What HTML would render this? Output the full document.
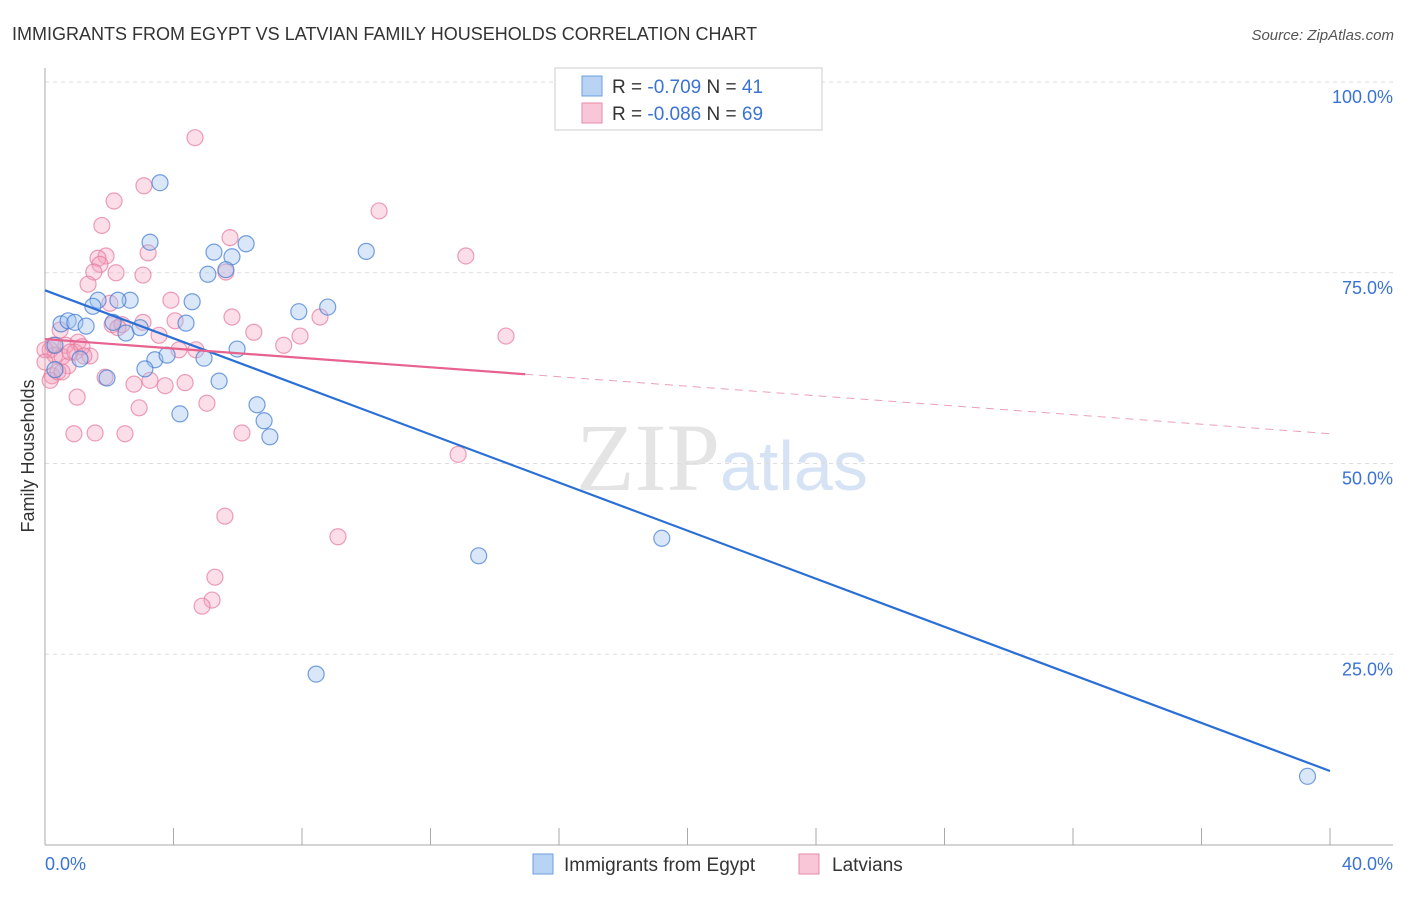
<!DOCTYPE html>
<html><head><meta charset="utf-8"><style>
body{margin:0;background:#fff;font-family:"Liberation Sans",sans-serif}
</style></head><body>
<svg id="c" width="1406" height="892" xmlns="http://www.w3.org/2000/svg" font-family="Liberation Sans, sans-serif">
<text x="12" y="40" font-size="18" fill="#333">IMMIGRANTS FROM EGYPT VS LATVIAN FAMILY HOUSEHOLDS CORRELATION CHART</text>
<text x="1394" y="40" font-size="15" fill="#555" font-style="italic" text-anchor="end">Source: ZipAtlas.com</text>
<text x="720" y="490" font-size="96" fill="#e4e4e4" text-anchor="end" font-family="Liberation Serif, serif">ZIP</text>
<text x="720" y="490" font-size="70" fill="#d6e3f5">atlas</text>
<text x="34" y="456" font-size="18" fill="#333" text-anchor="middle" transform="rotate(-90 34 456)">Family Households</text>
<g id="grid"></g><g id="axes"></g><g id="pts"></g><g id="trend"></g>
<g>
<rect x="555" y="68" width="267" height="62" fill="#fff" stroke="#ccc"/>
<rect x="582" y="76" width="20" height="20" fill="#b9d3f5" stroke="#6d9fe0"/>
<rect x="582" y="103" width="20" height="20" fill="#f8c6d6" stroke="#e88aa8"/>
<text x="612" y="93" font-size="19" fill="#333">R = <tspan fill="#3a73d4">-0.709</tspan>   N = <tspan fill="#3a73d4">41</tspan></text>
<text x="612" y="120" font-size="19" fill="#333">R = <tspan fill="#3a73d4">-0.086</tspan>   N = <tspan fill="#3a73d4">69</tspan></text>
</g>
<g>
<rect x="533" y="854" width="20" height="20" fill="#b9d3f5" stroke="#6d9fe0"/>
<text x="564" y="871" font-size="19" fill="#333">Immigrants from Egypt</text>
<rect x="799" y="854" width="20" height="20" fill="#f8c6d6" stroke="#e88aa8"/>
<text x="832" y="871" font-size="19" fill="#333">Latvians</text>
</g>
</svg>
<script>
const yTicks=[25,50,75,100];
const yTickLabels=["25.0%","50.0%","75.0%","100.0%"];
const xTicks=[0,4,8,12,16,20,24,28,32,36,40];
const blueX=[3.58,3.27,5.26,6.26,5.82,5.07,5.63,10.0,1.65,2.65,2.27,1.49,4.58,7.9,8.8,0.5,0.72,0.93,1.28,2.12,2.52,2.96,4.39,0.31,1.09,1.93,3.42,3.8,4.95,5.98,3.11,5.42,4.2,6.6,6.82,7.0,13.5,19.2,8.44,39.3,0.31];
const blueY=[86.8,79.0,77.7,78.8,77.1,74.8,75.4,77.8,71.4,71.4,71.4,70.6,71.2,69.9,70.5,68.3,68.7,68.5,68.0,68.5,67.1,67.8,68.4,65.5,63.7,61.2,63.6,64.2,63.8,65.0,62.4,60.8,56.5,57.7,55.6,53.5,37.9,40.2,22.4,9.0,62.3];
const pinkX=[4.67,3.08,2.15,10.4,1.77,5.76,3.21,1.9,13.1,1.65,1.71,1.52,2.21,3.05,5.63,1.34,3.92,2.02,8.56,5.82,3.05,4.05,2.09,2.4,6.5,3.55,7.94,14.35,7.43,0.47,0.65,1.03,0.16,0.31,0.53,0.93,1.4,1.15,0.72,0.22,0.16,0.4,1.21,4.17,4.7,3.27,3.74,4.36,1.87,2.77,1.0,2.93,5.04,0.9,1.56,2.49,6.13,12.86,5.6,9.12,5.29,5.2,4.89,0.0,0.0,2.27,0.53,0.25,0.78];
const pinkY=[92.7,86.4,84.4,83.1,81.2,79.6,77.6,77.2,77.2,76.9,76.1,75.1,75.0,74.7,75.1,73.5,71.4,71.0,69.2,69.2,68.5,68.7,68.2,68.2,67.2,66.8,66.7,66.7,65.5,67.5,65.5,65.9,64.9,64.2,64.0,64.6,64.1,65.3,62.8,61.5,60.9,62.0,64.1,64.9,64.9,60.9,60.2,60.6,61.3,60.4,58.7,57.3,57.9,53.9,54.0,53.9,54.0,51.2,43.1,40.4,35.1,32.1,31.3,64.9,63.3,67.8,62.0,65.5,64.6];
const blueTrend=[[0,72.7],[40,9.7]];
const pinkTrendSolid=[[0,66.3],[14.95,61.7]];
const pinkTrendDash=[[14.95,61.7],[40,53.9]];
const NS="http://www.w3.org/2000/svg";
const sx=v=>45+v*32.125, sy=v=>845-v*7.63;
function mk(t,a,p){const e=document.createElementNS(NS,t);for(const k in a)e.setAttribute(k,a[k]);document.getElementById(p).appendChild(e);return e;}
yTicks.forEach((t,i)=>{const g=mk('line',{x1:45,x2:1393,y1:sy(t),y2:sy(t),stroke:'#ddd','stroke-dasharray':'4,4'},'grid');


const l=mk('text',{x:1393,y:sy(t)+21,'font-size':18,fill:'#3a73d4','text-anchor':'end'},'axes');l.textContent=yTickLabels[i];

});
let a=mk('line',{x1:45,x2:45,y1:68,y2:845,stroke:'#aaa'},'axes');


a=mk('line',{x1:45,x2:1393,y1:845,y2:845,stroke:'#aaa'},'axes');


xTicks.forEach(t=>{const e=mk('line',{x1:sx(t),x2:sx(t),y1:828,y2:845,stroke:'#aaa'},'axes');

});
let t=mk('text',{x:45,y:870,'font-size':18,fill:'#3a73d4'},'axes');t.textContent='0.0%';


t=mk('text',{x:1393,y:870,'font-size':18,fill:'#3a73d4','text-anchor':'end'},'axes');t.textContent='40.0%';


pinkX.forEach((x,i)=>{const c=mk('circle',{cx:sx(x),cy:sy(pinkY[i]),r:8,fill:'rgba(244,160,188,0.35)',stroke:'rgba(230,120,155,0.7)','stroke-width':1.2},'pts');

});
blueX.forEach((x,i)=>{const c=mk('circle',{cx:sx(x),cy:sy(blueY[i]),r:8,fill:'rgba(160,195,240,0.4)',stroke:'rgba(60,120,210,0.7)','stroke-width':1.2},'pts');

});
function ln(d,col,w,dash,name){const e=mk('line',{x1:sx(d[0][0]),y1:sy(d[0][1]),x2:sx(d[1][0]),y2:sy(d[1][1]),stroke:col,'stroke-width':w},'trend');if(dash)e.setAttribute('stroke-dasharray',dash);

}
ln(blueTrend,'#2a6fd6',2.2,null,'egypt-trendline');
ln(pinkTrendSolid,'#e8628e',2.2,null,'latvians-trendline');
ln(pinkTrendDash,'#eaa0b8',1,'8,6','latvians-trendline-extension');
</script>
</body></html>
